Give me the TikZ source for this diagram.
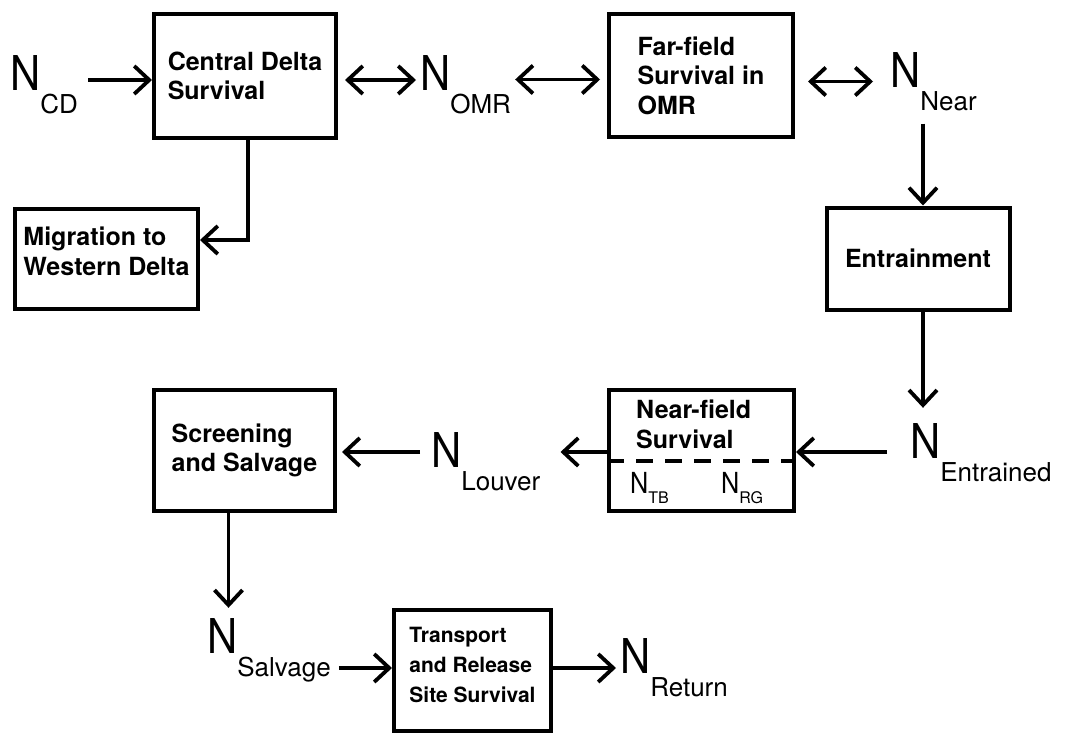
\documentclass[tikz,border=0pt]{standalone}
\usepackage{fontspec}
\setmainfont{TeX Gyre Heros}
\usepackage{graphicx}
\usepackage{tikz}
\usetikzlibrary{arrows.meta}
\newcommand{\bigN}[1]{\scalebox{0.87}[1]{\fontsize{48}{48}\selectfont N}\raisebox{-23pt}{\fontsize{26}{26}\selectfont #1}}
\newcommand{\smallN}[1]{\scalebox{0.87}[1]{\fontsize{29}{29}\selectfont N}\raisebox{-10pt}{\fontsize{16}{16}\selectfont #1}}

\begin{document}
\begin{tikzpicture}[x=1pt,y=-1pt,
    box/.style={draw,line width=4pt,align=left,inner sep=0pt,
      font=\fontsize{25}{29.5}\selectfont\bfseries},
    nlab/.style={anchor=base west,inner sep=4pt},
    arr/.style={line width=3.8pt,-{Straight Barb[length=15pt,width=28pt]}},
    darr/.style={line width=3.8pt,{Straight Barb[length=15pt,width=28pt]}-{Straight Barb[length=15pt,width=28pt]}}]

  \useasboundingbox (0,0) rectangle (1072,736);

  % boxes
  \node[box,minimum width=182,minimum height=124] (central) at (245,76) {Central Delta\\Survival};
  \node[box,minimum width=184,minimum height=123] (farfield) at (701,75.5) {Far-field\\Survival in\\OMR};
  \node[box,minimum width=183,minimum height=100,text depth=16pt] (migration) at (106.5,259) {Migration to\\Western Delta};
  \node[box,minimum width=183,minimum height=102] (entrain) at (918,258.5) {Entrainment};
  \node[box,minimum width=181,minimum height=121] (screen) at (244.5,450.5) {Screening\\and Salvage};
  \node[box,minimum width=157,minimum height=121,text depth=12pt,
    font=\fontsize{21}{30}\selectfont\bfseries] (transport) at (472.5,670.5) {Transport\\and Release\\Site Survival};
  \node[box,minimum width=185,minimum height=121] (nearfield) at (701.5,450.5) {};
  \node[anchor=north west,inner sep=0pt,align=left,
    font=\fontsize{25}{29.5}\selectfont\bfseries] (nearfield-t) at (636,400) {Near-field\\Survival};
  \draw[line width=4.5pt,dash pattern=on 17pt off 12pt]
    ([yshift=-10.5pt]nearfield.west) -- ([yshift=-10.5pt]nearfield.east);
  \node[anchor=base west,inner sep=0pt] (ntb) at (630,493) {\smallN{TB}};
  \node[anchor=base west,inner sep=0pt] (nrg) at (721,493) {\smallN{RG}};

  % N labels
  \node[nlab] (ncd) at (6,90) {\bigN{CD}};
  \node[nlab] (nomr) at (416,90) {\bigN{OMR}};
  \node[nlab] (nnear) at (886,87) {\bigN{Near}};
  \node[nlab] (nent) at (906,458) {\bigN{Entrained}};
  \node[nlab] (nlouver) at (427,467) {\bigN{Louver}};
  \node[nlab] (nsalv) at (203,653) {\bigN{Salvage}};
  \node[nlab] (nret) at (616,673) {\bigN{Return}};

  % connectors
  \draw[arr,shorten <=6pt] ([yshift=-4pt]central.west -| ncd.east) -- ([yshift=-4pt]central.west);
  \draw[darr,shorten <=7pt] ([yshift=-4pt]central.east) -- ([yshift=-4pt]central.east -| nomr.west);
  \draw[darr,shorten >=7pt] ([yshift=-4pt]farfield.west -| nomr.east) -- ([yshift=-4pt]farfield.west);
  \draw[darr,shorten <=13pt,shorten >=13pt] ([yshift=-6pt]farfield.east) -- ([yshift=-6pt]farfield.east -| nnear.west);
  \draw[arr,shorten <=9pt] ([xshift=5pt]entrain.north |- nnear.south) -- ([xshift=5pt]entrain.north);
  \draw[arr,shorten >=11pt] ([xshift=5pt]entrain.south) -- ([xshift=5pt]entrain.south |- nent.north);
  \draw[arr,shorten <=19pt] ([yshift=-1.5pt]nearfield.east -| nent.west) -- ([yshift=-1.5pt]nearfield.east);
  \draw[arr,shorten >=16pt] ([yshift=-1.5pt]nearfield.west) -- ([yshift=-1.5pt]nearfield.west -| nlouver.east);
  \draw[arr,shorten <=7pt,shorten >=5pt] ([yshift=-1.5pt]screen.east -| nlouver.west) -- ([yshift=-1.5pt]screen.east);
  \draw[arr,shorten >=6pt] ([xshift=-16pt]screen.south) -- ([xshift=-16pt]screen.south |- nsalv.north);
  \draw[arr,shorten <=4pt] ([yshift=2.5pt]transport.west -| nsalv.east) -- ([yshift=2.5pt]transport.west);
  \draw[arr] ([yshift=2.5pt]transport.east) -- ([yshift=2.5pt]transport.east -| nret.west);
  \draw[arr] ([xshift=3pt]central.south) |- ([yshift=19pt]migration.east);
\end{tikzpicture}
\end{document}
